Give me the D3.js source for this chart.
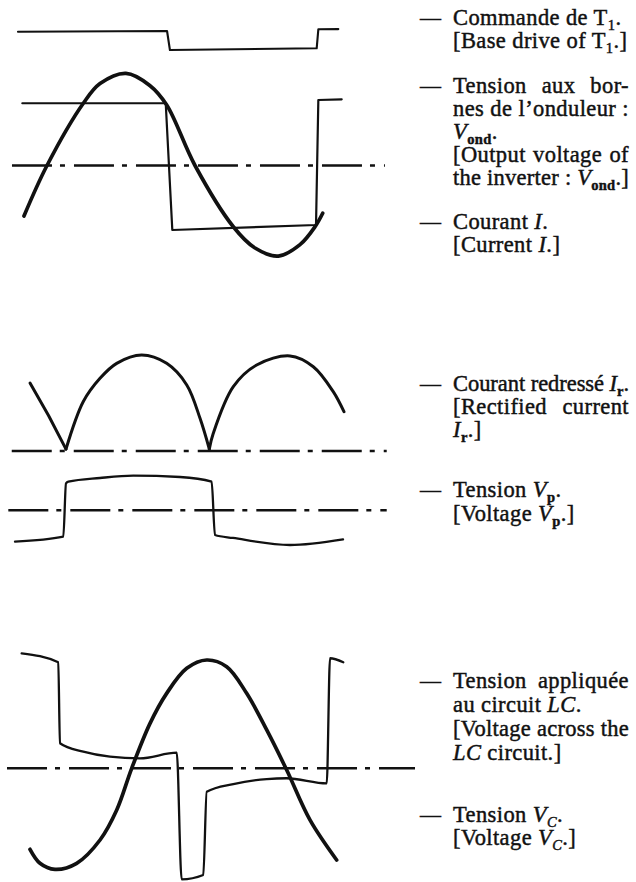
<!DOCTYPE html>
<html>
<head>
<meta charset="utf-8">
<script src="https://cdn.jsdelivr.net/npm/d3@7"></script>
<style>
  html, body { margin: 0; padding: 0; background: #fff; }
  svg { display: block; }
  .note { font-family: "Liberation Serif", "Times New Roman", serif; font-size: 22.5px; fill: #111;
          stroke: #111; stroke-width: 0.45px; letter-spacing: 0.4px; }
</style>
</head>
<body>
<svg id="fig" width="636" height="882"></svg>
<script>
// ---- Waveforms: time in electrical degrees, amplitudes normalised per trace ----

// Panel 1: inverter
const driveT1 = [[-35.3, 0.96], [146, 1], [149.5, 0], [328, 0.09], [330, 1.09], [354.3, 1.1]];
const vOnd = [[-30, 0.684], [144.4, 0.684], [152.4, -0.709], [327.2, -0.654], [330, 0.72], [358.4, 0.727]];
const currentI = [[-28, -0.555], [0, 0], [44.2, 0.684], [64.5, 0.9], [96, 1.013], [125, 0.88],
  [145.6, 0.665], [180, 0], [226.6, -0.673], [253, -0.907], [281.3, -0.995], [307.7, -0.87],
  [326, -0.673], [335.3, -0.525]];
const axis1Span = [-42.6, 411];

// Panel 2: rectified current and voltage Vp
const rectLead = [[-45.3, 0.708], [-22, 0.37], [0, 0.02]];
const rectArc1 = [[0, 0.02], [21.8, 0.515], [42.8, 0.757], [63.8, 0.913], [95.3, 1], [126.7, 0.913],
  [152, 0.688], [168.7, 0.34], [180.4, 0.02]];
const rectArc2 = [[180.4, 0.02], [185.4, 0.184], [210.6, 0.67], [240, 0.896], [282, 0.99],
  [311.3, 0.878], [336.4, 0.618], [349.9, 0.409]];
const vP = [[-64.2, -0.897], [-3.4, -0.754], [0, 0.771], [2.9, 0.817], [42.8, 0.923], [84.7, 0.989],
  [143.5, 0.951], [183.3, 0.817], [187.5, -0.706], [210.2, -0.791], [282, -0.991], [348.7, -0.829]];
const axis2aSpan = [-68.3, 403.7];
const axis2bSpan = [-72.6, 403.7];

// Panel 3: LC circuit voltage and capacitor voltage
const vLC = [[-127.8, 1.062], [-85.3, 0.979], [-83.3, 0.231], [-56.2, 0.153], [-25.2, 0.107],
  [9.6, 0.092], [52.3, 0.144], [58, -1.025], [83.1, -0.985], [87.1, -0.216], [118, -0.145],
  [156.8, -0.099], [180, -0.092], [226.5, -0.139], [230.3, 1.016], [245.7, 0.979]];
const vC = [[-118.1, -0.748], [-106.5, -0.877], [-89.1, -0.933], [-63.9, -0.877], [-36.8, -0.662],
  [-17.4, -0.385], [0, 0], [21.3, 0.415], [40.6, 0.692], [63.9, 0.923], [87.1, 1], [110.3, 0.938],
  [133.5, 0.692], [156.8, 0.354], [180, -0.016], [207, -0.477], [238, -0.847]];
const axis3Span = [-144.8, 329];

// ---- Captions (runs: [text, kind]; kind: i = italic, s = subscript, sb = bold subscript, si = italic subscript) ----
const notes1 = [
  { dash: true, runs: [["Commande de T"], ["1", "s"], ["."]] },
  { runs: [["[Base drive of T"], ["1", "s"], [".]"]] },
  { dash: true, runs: [["Tension aux bor-"]], justify: true },
  { runs: [["nes de l\u2019onduleur :"]], justify: true },
  { runs: [["V", "i"], ["ond", "sb"], ["."]] },
  { runs: [["[Output voltage of"]], justify: true },
  { runs: [["the inverter : "], ["V", "i"], ["ond", "sb"], [".]"]], justify: true },
  { dash: true, runs: [["Courant "], ["I", "i"], ["."]] },
  { runs: [["[Current "], ["I", "i"], [".]"]] }
];
const notes2 = [
  { dash: true, runs: [["Courant redress\u00e9 "], ["I", "i"], ["r", "sb"], ["."]], justify: true },
  { runs: [["[Rectified current"]], justify: true },
  { runs: [["I", "i"], ["r", "sb"], [".]"]] },
  { dash: true, runs: [["Tension "], ["V", "i"], ["p", "sb"], ["."]] },
  { runs: [["[Voltage "], ["V", "i"], ["p", "sb"], [".]"]] }
];
const notes3 = [
  { dash: true, runs: [["Tension appliqu\u00e9e"]], justify: true },
  { runs: [["au circuit "], ["LC", "i"], ["."]] },
  { runs: [["[Voltage across the"]], justify: true },
  { runs: [["LC", "i"], [" circuit.]"]] },
  { dash: true, runs: [["Tension "], ["V", "i"], ["C", "si"], ["."]] },
  { runs: [["[Voltage "], ["V", "i"], ["C", "si"], [".]"]] }
];

// ---- Scales ----
const xs1 = d3.scaleLinear().domain([0, 180]).range([47, 195]);
const ys1 = d3.scaleLinear().domain([-1, 1]).range([256.5, 74.5]);
const yDrive = d3.scaleLinear().domain([0, 1]).range([50, 31]);

const xs2 = d3.scaleLinear().domain([0, 180]).range([66, 209]);
const yRect = d3.scaleLinear().domain([0, 1]).range([451, 355]);
const yVp = d3.scaleLinear().domain([-1, 1]).range([545.3, 475.3]);

const xs3 = d3.scaleLinear().domain([0, 180]).range([131.7, 286.7]);
const ys3 = d3.scaleLinear().domain([-1, 1]).range([876.6, 660]);

const svg = d3.select("#fig");
const ink = "#111";

function trace(data, xs, ys, curve, width) {
  const line = d3.line().x(d => xs(d[0])).y(d => ys(d[1])).curve(curve);
  svg.append("path")
    .datum(data)
    .attr("d", line)
    .attr("fill", "none")
    .attr("stroke", ink)
    .attr("stroke-width", width)
    .attr("stroke-linejoin", "round")
    .attr("stroke-linecap", "round");
}

function centreLine(span, xs, ys) {
  svg.append("line")
    .attr("x1", xs(span[0])).attr("x2", xs(span[1]))
    .attr("y1", ys(0)).attr("y2", ys(0))
    .attr("stroke", ink)
    .attr("stroke-width", 2.4)
    .attr("stroke-dasharray", "40 8 5 9");
}

// Panel 1
centreLine(axis1Span, xs1, ys1);
trace(driveT1, xs1, yDrive, d3.curveLinear, 2.1);
trace(vOnd, xs1, ys1, d3.curveLinear, 2.2);
trace(currentI, xs1, ys1, d3.curveCatmullRom.alpha(0.5), 3.7);

// Panel 2
centreLine(axis2aSpan, xs2, yRect);
centreLine(axis2bSpan, xs2, yVp);
trace(rectLead, xs2, yRect, d3.curveLinear, 3);
trace(rectArc1, xs2, yRect, d3.curveCatmullRom.alpha(0.5), 3);
trace(rectArc2, xs2, yRect, d3.curveCatmullRom.alpha(0.5), 3);
trace(vP, xs2, yVp, d3.curveMonotoneX, 2.3);

// Panel 3
centreLine(axis3Span, xs3, ys3);
trace(vLC, xs3, ys3, d3.curveMonotoneX, 2.3);
trace(vC, xs3, ys3, d3.curveCatmullRom.alpha(0.5), 3.7);

// ---- Captions ----
const dashX = 420, textX = 453, rightEdge = 629, baseTracking = 0.4;

function caption(lines, baselines) {
  lines.forEach((ln, k) => {
    const y = baselines[k];
    if (ln.dash) {
      svg.append("text").attr("class", "note").attr("x", dashX).attr("y", y)
        .style("letter-spacing", "0px").style("font-size", "21px").text("\u2014");
    }
    const t = svg.append("text").attr("class", "note").attr("x", textX).attr("y", y);
    let shifted = 0;
    ln.runs.forEach(([str, kind]) => {
      const sp = t.append("tspan").text(str);
      const isSub = kind === "s" || kind === "sb" || kind === "si";
      const target = isSub ? 4.5 : 0;
      if (target !== shifted) { sp.attr("dy", target - shifted); shifted = target; }
      if (kind === "i" || kind === "si") sp.style("font-style", "italic");
      if (kind === "sb") sp.style("font-weight", "bold");
      if (isSub) sp.style("font-size", "14.5px");
    });
    if (ln.justify) {
      const full = ln.runs.map(r => r[0]).join("");
      const gaps = (full.match(/ /g) || []).length;
      const natural = t.node().getComputedTextLength();
      const extra = rightEdge - textX - natural;
      if (extra >= 0 && gaps > 0) {
        t.style("word-spacing", (extra / gaps) + "px");
      } else if (extra < 0) {
        // too long for the column: tighten the tracking instead of the spaces
        t.style("letter-spacing", (baseTracking + extra / full.length) + "px");
      }
    }
  });
}

caption(notes1, [25, 48, 93, 116, 139, 162, 185, 229, 252]);
caption(notes2, [391, 414, 437, 497, 521]);
caption(notes3, [688, 712, 736, 760, 822, 845]);
</script>
</body>
</html>
